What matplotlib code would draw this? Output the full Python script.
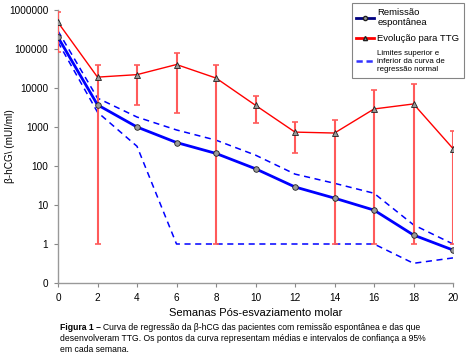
import matplotlib
matplotlib.use("Agg")
import matplotlib.pyplot as plt
from matplotlib.lines import Line2D
import numpy as np

plt.rcParams['font.family'] = ['Liberation Sans', 'DejaVu Sans']

# semanas
weeks = [0, 2, 4, 6, 8, 10, 12, 14, 16, 18, 20]

# remissao espontanea (media)
remissao = [200000, 3700, 1000, 400, 210, 85, 29, 15, 7.4, 1.7, 0.7]

# evolucao para TTG (media + IC 95%)
ttg = [480000, 19000, 22000, 40000, 18000, 3600, 740, 700, 2900, 3900, 280]
ttg_hi = [900000, 40000, 40000, 80000, 38000, 6200, 1350, 1500, 8800, 12500, 780]
ttg_lo = [85000, 1, 3600, 2300, 1, 1250, 210, 1, 1, 1, 1]

# limites da curva de regressao normal
lim_sup = [290000, 5500, 1800, 840, 460, 190, 62, 36, 20, 3.1, 1.0]
lim_inf = [150000, 2400, 320, 1, 1, 1, 1, 1, 1, 0.32, 0.44]

yticks = [0.1, 1, 10, 100, 1000, 10000, 100000, 1000000]
ytick_labels = ['0', '1', '10', '100', '1000', '10000', '100000', '1000000']
xticks = [0, 2, 4, 6, 8, 10, 12, 14, 16, 18, 20]

fig = plt.figure(figsize=(4.7, 3.63), dpi=100)
ax = fig.add_axes([58 / 470, 1 - 283 / 363, (453 - 58) / 470, (283 - 10) / 363])

ttg = np.array(ttg)
yerr = [ttg - np.array(ttg_lo), np.array(ttg_hi) - ttg]

ax.plot(weeks, lim_sup, color='#0000ff', lw=1.1, ls=(0, (4, 3)), zorder=2)
ax.plot(weeks, lim_inf, color='#0000ff', lw=1.1, ls=(0, (4, 3)), zorder=2)
ax.errorbar(weeks, ttg, yerr=yerr, fmt='none', ecolor='#ff5a5a', elinewidth=1.5,
            capsize=2.5, capthick=1.2, zorder=3)
ax.plot(weeks, ttg, color='#ff0000', lw=1.0, marker='^', ms=4,
        mfc='#9a9a9a', mec='#202020', mew=0.6, zorder=4)
ax.plot(weeks, remissao, color='#0000ff', lw=2.0, marker='o', ms=4,
        mfc='#9a9a9a', mec='#202020', mew=0.6, zorder=5)

ax.set_yscale('log')
ax.set_ylim(0.1, 1000000)
ax.set_xlim(0, 20)
ax.set_yticks(yticks)
ax.set_yticklabels(ytick_labels)
ax.yaxis.set_minor_locator(matplotlib.ticker.NullLocator())
ax.set_xticks(xticks)
ax.tick_params(labelsize=7.2, colors='#888888', labelcolor='black', length=3, width=0.8, pad=4)

for s in ['top', 'right']:
    ax.spines[s].set_visible(False)
for s in ['left', 'bottom']:
    ax.spines[s].set_color('#999999')
    ax.spines[s].set_linewidth(1.0)

ax.set_xlabel('Semanas Pós-esvaziamento molar', fontsize=8)
ax.xaxis.set_label_coords(0.5, (283 - 308) / 273)
ax.set_ylabel('β-hCG\\ (mUI/ml)', fontsize=7.2)
ax.yaxis.set_label_coords((15 - 58) / 395, 0.5)

handles = [
    Line2D([], [], color='#000080', lw=2.0, marker='o', ms=3, mfc='#9a9a9a', mec='#202020'),
    Line2D([], [], color='#ff0000', lw=2.0, marker='^', ms=3, mfc='#9a9a9a', mec='#202020'),
    Line2D([], [], color='#3333ff', lw=1.8, ls=(0, (2.5, 1.5))),
]
labels = ['Remissão\nespontânea', 'Evolução para TTG',
          'Limites superior e\ninferior da curva de\nregressão normal']
leg = fig.legend(handles, labels, loc='upper right', bbox_to_anchor=(464 / 470, 1 - 3 / 363),
                 fontsize=6.8, frameon=True, fancybox=False, edgecolor='#666666',
                 handlelength=1.9, handletextpad=0.3, borderpad=0.5, labelspacing=0.75,
                 borderaxespad=0)
leg.get_frame().set_linewidth(0.8)
leg.get_texts()[2].set_fontsize(5.7)

# legenda da figura
cap_font = ['Liberation Sans Narrow', 'Liberation Sans', 'DejaVu Sans']
cap_size = 6.2
renderer = fig.canvas.get_renderer()
t = fig.text(60 / 470, 1 - 327 / 363, 'Figura 1 –', fontsize=cap_size, fontweight='bold',
             family=cap_font, va='center')
bb = t.get_window_extent(renderer)
fig.text(bb.x1 / 470 + 2 / 470, 1 - 327 / 363,
         'Curva de regressão da β-hCG das pacientes com remissão espontânea e das que',
         fontsize=cap_size, family=cap_font, va='center')
fig.text(60 / 470, 1 - 338.5 / 363,
         'desenvolveram TTG. Os pontos da curva representam médias e intervalos de confiança a 95%',
         fontsize=cap_size, family=cap_font, va='center')
fig.text(60 / 470, 1 - 350 / 363, 'em cada semana.', fontsize=cap_size, family=cap_font, va='center')

fig.savefig('out.png', dpi=100)
